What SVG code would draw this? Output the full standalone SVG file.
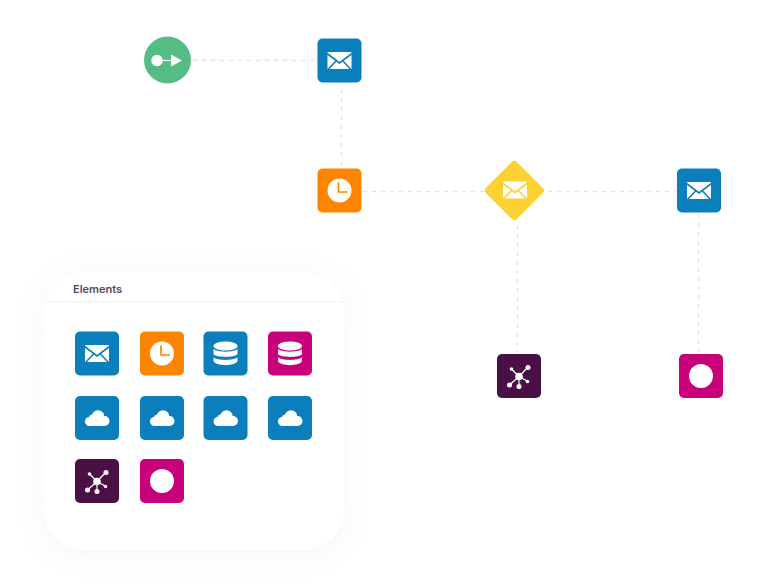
<svg xmlns="http://www.w3.org/2000/svg" xmlns:xlink="http://www.w3.org/1999/xlink" width="768" height="587" viewBox="0 0 768 587">
  <style>
    .link { fill: none; stroke: #e2e4e4; stroke-width: 1.4; stroke-dasharray: 4 5; }
    .blue { fill: #0a7fbc; color: #0a7fbc; }
    .orange { fill: #ff8500; }
    .pink { fill: #c8007a; }
    .plum { fill: #4a0f45; }
    .glyph { fill: #fff; }
    .title { font: 600 11px "Inter", "Liberation Sans", sans-serif; fill: #4f4a5c; }
  </style>
  <defs>
    <filter id="panelShadow" x="-20%" y="-20%" width="140%" height="140%">
      <feDropShadow dx="0" dy="4" stdDeviation="13" flood-color="#8c9c9c" flood-opacity="0.11"/>
    </filter>
    <!-- Glyphs are drawn around a 0,0 centre; the envelope folds take the colour of the tile -->
    <symbol id="mail" overflow="visible" width="1" height="1">
      <rect class="glyph" x="-12" y="-8.500" width="24" height="17"/>
      <path d="M-12.500-7L0 2.500 12.500-7M-11.500 9L-2.500-0.500M11.500 9L2.500-0.500" fill="none" stroke="currentColor" stroke-width="1.600"/>
    </symbol>
    <symbol id="clock" overflow="visible" width="1" height="1">
      <circle class="glyph" r="12"/>
      <path d="M-1-8V1.500H8" fill="none" stroke="#ff8500" stroke-width="1.700"/>
    </symbol>
    <symbol id="db" overflow="visible" width="1" height="1">
      <ellipse class="glyph" cx="0" cy="-7.500" rx="12" ry="4.500"/>
      <path class="glyph" d="M-12-4.500C-9-1 9-1 12-4.500V0.800C9 4.300-9 4.300-12 0.800Z"/>
      <path class="glyph" d="M-12 3.800C-9 7.300 9 7.300 12 3.800V7.500C10 13-10 13-12 7.500Z"/>
    </symbol>
    <symbol id="cloud" overflow="visible" width="1" height="1">
      <g class="glyph">
        <circle cx="-7.500" cy="3.500" r="4.500"/>
        <circle cx="-4.500" cy="0" r="3.600"/>
        <circle cx="1" cy="-1.500" r="6.300"/>
        <circle cx="7.500" cy="3" r="5"/>
        <rect x="-7.500" y="1" width="15" height="7"/>
      </g>
    </symbol>
    <symbol id="hub" overflow="visible" width="1" height="1">
      <path d="M0 0L-8-8M0 0L9-9.500M0 0L9 5M0 0L-9.500 8.500M0 0V9.500" stroke="#fff" stroke-width="1.200" fill="none"/>
      <circle class="glyph" r="3.800"/>
      <circle class="glyph" cx="-7.500" cy="-7.500" r="1.800"/>
      <circle class="glyph" cx="9" cy="-9" r="2.500"/>
      <circle class="glyph" cx="8.500" cy="5" r="1.800"/>
      <circle class="glyph" cx="-9.500" cy="8.500" r="2.500"/>
      <circle class="glyph" cx="0" cy="10" r="2.500"/>
    </symbol>
    <symbol id="ring" overflow="visible" width="1" height="1">
      <circle class="glyph" r="12"/>
    </symbol>
  </defs>

  <!-- Flow connectors -->
  <g id="connectors">
    <path class="link" d="M193 60.500H316"/>
    <path class="link" d="M341.500 89V167"/>
    <path class="link" d="M363 191.500H484"/>
    <path class="link" d="M548 191.500H676"/>
    <path class="link" d="M517.500 225V352"/>
    <path class="link" d="M698.500 214V352"/>
  </g>

  <!-- Flow nodes -->
  <g id="start">
    <circle cx="167.500" cy="60" r="23.500" fill="#55bc85"/>
    <circle class="glyph" cx="157" cy="60.500" r="5.700"/>
    <path d="M160 60.500H172" stroke="#fff" stroke-width="1.200"/>
    <path class="glyph" d="M171 54.500L182 60.500 171 66.500Z"/>
  </g>
  <g id="flow-mail-1">
    <rect class="blue" x="317.500" y="38.500" width="44" height="44" rx="5"/>
    <use href="#mail" x="339.500" y="60.500" color="#0a7fbc"/>
  </g>
  <g id="flow-timer">
    <rect class="orange" x="317.500" y="168.500" width="44" height="44" rx="5"/>
    <use href="#clock" x="339.500" y="190.500"/>
  </g>
  <g id="flow-gateway">
    <rect x="492.300" y="168.500" width="44" height="44" rx="4" fill="#fcd232" transform="rotate(45 514.300 190.500)"/>
    <use href="#mail" x="515" y="190" color="#fcd232"/>
  </g>
  <g id="flow-mail-2">
    <rect class="blue" x="677" y="168.500" width="44" height="44" rx="5"/>
    <use href="#mail" x="699" y="190.500" color="#0a7fbc"/>
  </g>
  <g id="flow-hub">
    <rect class="plum" x="497" y="354" width="44" height="44" rx="5"/>
    <use href="#hub" x="519" y="376.500"/>
  </g>
  <g id="flow-end">
    <rect class="pink" x="679" y="354" width="44" height="44" rx="5"/>
    <use href="#ring" x="701" y="376"/>
  </g>

  <!-- Elements palette -->
  <g id="panel">
    <rect x="44" y="272" width="300" height="278" rx="40" fill="#fff" filter="url(#panelShadow)"/>
    <path d="M44 301.500H344" stroke="#f3f5f5" stroke-width="1"/>
    <text class="title" x="73" y="293">Elements</text>
  </g>
  <g id="el-mail">
    <rect class="blue" x="75" y="331.500" width="44" height="44" rx="5"/>
    <use href="#mail" x="97" y="353.500" color="#0a7fbc"/>
  </g>
  <g id="el-timer">
    <rect class="orange" x="140" y="331.500" width="44" height="44" rx="5"/>
    <use href="#clock" x="162" y="353.500"/>
  </g>
  <g id="el-db-blue">
    <rect class="blue" x="203.500" y="331.500" width="44" height="44" rx="5"/>
    <use href="#db" x="225.500" y="353.500"/>
  </g>
  <g id="el-db-pink">
    <rect class="pink" x="268" y="331.500" width="44" height="44" rx="5"/>
    <use href="#db" x="290" y="353.500"/>
  </g>
  <g id="el-cloud-1">
    <rect class="blue" x="75" y="396" width="44" height="44" rx="5"/>
    <use href="#cloud" x="97" y="418"/>
  </g>
  <g id="el-cloud-2">
    <rect class="blue" x="140" y="396" width="44" height="44" rx="5"/>
    <use href="#cloud" x="162" y="418"/>
  </g>
  <g id="el-cloud-3">
    <rect class="blue" x="203.500" y="396" width="44" height="44" rx="5"/>
    <use href="#cloud" x="225.500" y="418"/>
  </g>
  <g id="el-cloud-4">
    <rect class="blue" x="268" y="396" width="44" height="44" rx="5"/>
    <use href="#cloud" x="290" y="418"/>
  </g>
  <g id="el-hub">
    <rect class="plum" x="75" y="459" width="44" height="44" rx="5"/>
    <use href="#hub" x="97" y="481.500"/>
  </g>
  <g id="el-end">
    <rect class="pink" x="140" y="459" width="44" height="44" rx="5"/>
    <use href="#ring" x="162" y="481"/>
  </g>
</svg>
